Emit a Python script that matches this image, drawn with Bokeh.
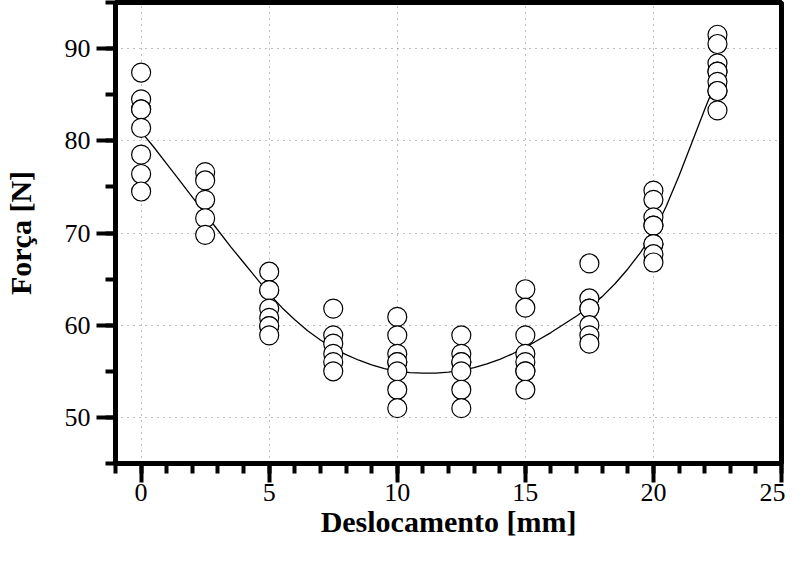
from bokeh.plotting import figure
from bokeh.models import SingleIntervalTicker, Range1d, ColumnDataSource
from bokeh.embed import file_html
from bokeh.resources import INLINE

# Displacement levels [mm]
disp_levels = [0.0, 2.5, 5.0, 7.5, 10.0, 12.5, 15.0, 17.5, 20.0, 22.5]

# Measured force [N] at each displacement level
force_00_0 = [87.4, 84.5, 83.4, 83.4, 81.4, 78.5, 76.4, 74.5]
force_02_5 = [76.6, 75.7, 73.6, 71.6, 69.8]
force_05_0 = [65.8, 63.8, 63.8, 61.8, 60.8, 59.9, 59.9, 58.9]
force_07_5 = [61.8, 58.9, 58.0, 56.9, 56.0, 55.0]
force_10_0 = [60.9, 58.9, 56.9, 56.0, 56.0, 55.0, 53.0, 51.0]
force_12_5 = [58.9, 56.9, 56.0, 56.0, 55.0, 53.0, 51.0]
force_15_0 = [63.9, 61.9, 58.9, 56.9, 56.0, 55.0, 55.0, 53.0]
force_17_5 = [66.7, 62.9, 61.8, 61.8, 60.0, 58.9, 58.0]
force_20_0 = [74.6, 73.6, 71.7, 70.8, 70.8, 68.8, 68.8, 67.7, 66.8]
force_22_5 = [91.5, 90.5, 88.4, 87.5, 87.5, 86.4, 85.4, 85.4, 83.3]

# Fitted curve
fit_x = [0, 0.5, 1, 1.5, 2, 2.5, 3, 3.5, 4, 4.5, 5, 5.5, 6, 6.5, 7, 7.5, 8, 8.5, 9, 9.5,
         10, 10.5, 11, 11.5, 12, 12.5, 13, 13.5, 14, 14.5, 15, 15.5, 16, 16.5, 17, 17.5,
         18, 18.5, 19, 19.5, 20, 20.5, 21, 21.5, 22, 22.5]
fit_y = [81.0, 79.3, 77.5, 75.7, 73.9, 72.1, 70.3, 68.5, 66.8, 65.1, 63.4, 61.9, 60.6, 59.4,
         58.4, 57.5, 56.8, 56.2, 55.7, 55.3, 55.0, 54.85, 54.8, 54.8, 54.9, 55.1, 55.4, 55.8,
         56.3, 56.9, 57.6, 58.4, 59.2, 60.1, 61.0, 62.0, 63.1, 64.5, 66.1, 67.9, 70.0, 72.9,
         76.2, 79.8, 83.4, 86.8]

x_axis_title = "Deslocamento [mm]"
y_axis_title = "Força [N]"

groups = [force_00_0, force_02_5, force_05_0, force_07_5, force_10_0,
          force_12_5, force_15_0, force_17_5, force_20_0, force_22_5]
xs, ys = [], []
for lvl, vals in zip(disp_levels, groups):
    for v in vals:
        xs.append(lvl)
        ys.append(v)

pts = ColumnDataSource(dict(x=xs, y=ys))
fit = ColumnDataSource(dict(x=fit_x, y=fit_y))

p = figure(width=785, height=546, x_range=Range1d(-1, 25), y_range=Range1d(45, 95),
           output_backend="svg", toolbar_location=None,
           min_border_left=110, min_border_right=4, min_border_top=2, min_border_bottom=83)

p.background_fill_color = "white"
p.border_fill_color = "white"
p.outline_line_color = "black"
p.outline_line_width = 5
p.outline_line_alpha = 1.0

p.line("x", "y", source=fit, line_color="black", line_width=1.3)
p.scatter("x", "y", source=pts, size=19, marker="circle",
          fill_color="white", line_color="black", line_width=1.2)

p.xaxis.ticker = SingleIntervalTicker(interval=5, num_minor_ticks=5)
p.yaxis.ticker = SingleIntervalTicker(interval=10, num_minor_ticks=2)

for ax in (p.xaxis[0], p.yaxis[0]):
    ax.axis_line_width = 5
    ax.axis_line_color = "black"
    ax.major_tick_out = 19
    ax.major_tick_in = 0
    ax.minor_tick_out = 10
    ax.minor_tick_in = 0
    ax.major_tick_line_width = 4
    ax.minor_tick_line_width = 4
    ax.major_tick_line_color = "black"
    ax.minor_tick_line_color = "black"
    ax.major_label_text_font = "Liberation Serif"
    ax.major_label_text_font_size = "26px"
    ax.major_label_text_color = "black"
    ax.axis_label_text_font = "Liberation Serif"
    ax.axis_label_text_font_size = "30px"
    ax.axis_label_text_font_style = "bold"
    ax.axis_label_text_color = "black"

p.xaxis.axis_label = x_axis_title
p.yaxis.axis_label = y_axis_title
p.xaxis.major_label_standoff = 1
p.xaxis.axis_label_standoff = 1
p.yaxis.major_label_standoff = 6
p.yaxis.axis_label_standoff = 25

for g in (p.xgrid[0], p.ygrid[0]):
    g.grid_line_color = "#808080"
    g.grid_line_dash = "1 5"
    g.grid_line_width = 1

open("out.html", "w").write(file_html(p, INLINE))
